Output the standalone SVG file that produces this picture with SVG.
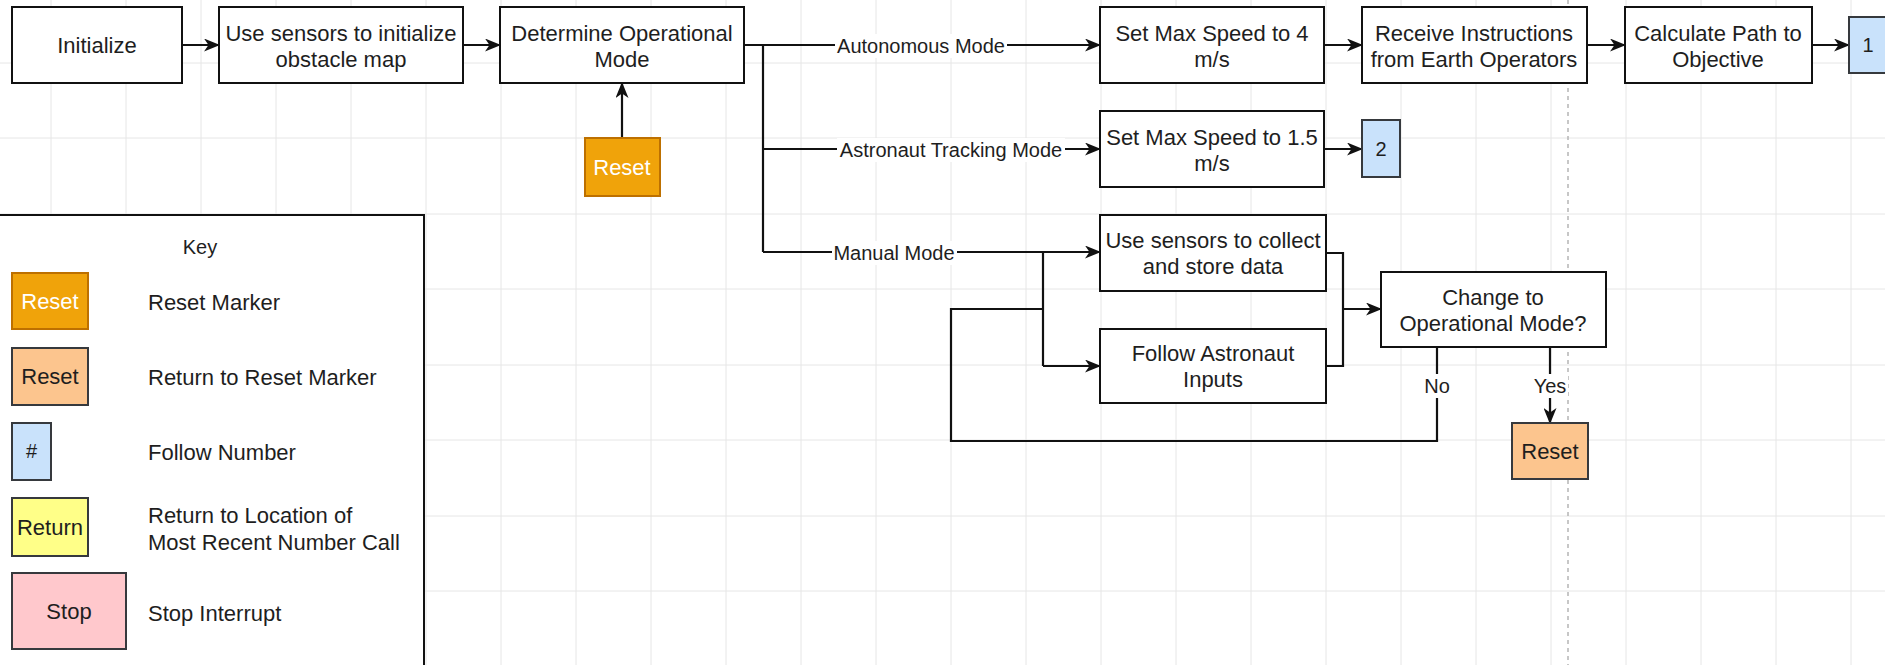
<svg xmlns="http://www.w3.org/2000/svg" width="1885" height="665" viewBox="0 0 1885 665">
<defs>
<style>
text{font-family:"Liberation Sans",Arial,sans-serif;fill:#1e1e1e;text-anchor:middle;dominant-baseline:central}
.t{font-size:22px}
.lbl{font-size:20px}
.key{font-size:22px;text-anchor:start}
.box{fill:#fff;stroke:#111;stroke-width:2}
.org{fill:#f0a30a;stroke:#bd7000;stroke-width:2}
.lor{fill:#fcc58e;stroke:#36393d;stroke-width:2}
.blu{fill:#c9e2fb;stroke:#36393d;stroke-width:2}
.yel{fill:#ffff88;stroke:#36393d;stroke-width:2}
.pnk{fill:#ffc8cc;stroke:#36393d;stroke-width:2}
.grid line{stroke:#e6e6e6;stroke-width:1}
.e{fill:none;stroke:#111;stroke-width:2.2}
.a{marker-end:url(#arr)}
.bg{fill:#fff}
</style>
<marker id="arr" markerUnits="userSpaceOnUse" markerWidth="16" markerHeight="13" refX="15" refY="6.5" orient="auto">
<path d="M0,0 L16,6.5 L0,13 L4.5,6.5 z" fill="#111"/>
</marker>
</defs>
<rect width="1885" height="665" fill="#fff"/>
<g class="grid">
<line x1="51" y1="0" x2="51" y2="665"/><line x1="126" y1="0" x2="126" y2="665"/><line x1="201" y1="0" x2="201" y2="665"/><line x1="276" y1="0" x2="276" y2="665"/><line x1="351" y1="0" x2="351" y2="665"/><line x1="426" y1="0" x2="426" y2="665"/><line x1="501" y1="0" x2="501" y2="665"/><line x1="576" y1="0" x2="576" y2="665"/><line x1="651" y1="0" x2="651" y2="665"/><line x1="726" y1="0" x2="726" y2="665"/><line x1="801" y1="0" x2="801" y2="665"/><line x1="876" y1="0" x2="876" y2="665"/><line x1="951" y1="0" x2="951" y2="665"/><line x1="1026" y1="0" x2="1026" y2="665"/><line x1="1101" y1="0" x2="1101" y2="665"/><line x1="1176" y1="0" x2="1176" y2="665"/><line x1="1251" y1="0" x2="1251" y2="665"/><line x1="1326" y1="0" x2="1326" y2="665"/><line x1="1401" y1="0" x2="1401" y2="665"/><line x1="1476" y1="0" x2="1476" y2="665"/><line x1="1551" y1="0" x2="1551" y2="665"/><line x1="1626" y1="0" x2="1626" y2="665"/><line x1="1701" y1="0" x2="1701" y2="665"/><line x1="1776" y1="0" x2="1776" y2="665"/><line x1="1851" y1="0" x2="1851" y2="665"/>
<line x1="0" y1="63" x2="1885" y2="63"/><line x1="0" y1="138" x2="1885" y2="138"/><line x1="0" y1="214" x2="1885" y2="214"/><line x1="0" y1="289" x2="1885" y2="289"/><line x1="0" y1="365" x2="1885" y2="365"/><line x1="0" y1="440" x2="1885" y2="440"/><line x1="0" y1="516" x2="1885" y2="516"/><line x1="0" y1="591" x2="1885" y2="591"/>
</g>
<line x1="1568" y1="0" x2="1568" y2="665" stroke="#b5b5b5" stroke-width="1.5" stroke-dasharray="4 4"/>

<g id="legend">
<rect x="-2" y="215" width="426" height="455" fill="#fff" stroke="#111" stroke-width="2"/>
<text x="200" y="247" class="lbl">Key</text>
<rect x="12" y="273" width="76" height="56" class="org"/><text x="50" y="301" class="t" style="fill:#fff">Reset</text>
<text x="148" y="302" class="key">Reset Marker</text>
<rect x="12" y="348" width="76" height="57" class="lor"/><text x="50" y="376" class="t">Reset</text>
<text x="148" y="377" class="key">Return to Reset Marker</text>
<rect x="12" y="423" width="39" height="57" class="blu"/><text x="31.5" y="451" class="lbl">#</text>
<text x="148" y="452" class="key">Follow Number</text>
<rect x="12" y="498" width="76" height="58" class="yel"/><text x="50" y="527" class="t">Return</text>
<text x="148" y="515" class="key">Return to Location of</text>
<text x="148" y="542" class="key">Most Recent Number Call</text>
<rect x="12" y="573" width="114" height="76" class="pnk"/><text x="69" y="611" class="t">Stop</text>
<text x="148" y="613" class="key">Stop Interrupt</text>
</g>

<g id="connectors">
<path class="e a" d="M182,45 H219"/>
<path class="e a" d="M463,45 H500"/>
<path class="e a" d="M622,138 V83"/>
<path class="e a" d="M744,45 H1100"/>
<path class="e" d="M763,45 V252"/>
<path class="e a" d="M763,149 H1100"/>
<path class="e a" d="M763,252 H1100"/>
<path class="e a" d="M1324,45 H1362"/>
<path class="e a" d="M1587,45 H1625"/>
<path class="e a" d="M1812,45 H1849"/>
<path class="e a" d="M1324,149 H1362"/>
<path class="e" d="M1043,252 V366"/>
<path class="e a" d="M1043,366 H1100"/>
<path class="e" d="M1326,253 H1343 V366 H1326"/>
<path class="e a" d="M1343,309 H1381"/>
<path class="e" d="M1437,347 V441 H951 V309 H1043"/>
<path class="e a" d="M1550,347 V423"/>
<rect x="835" y="34" width="172" height="24" class="bg"/><text x="921" y="46" class="lbl">Autonomous Mode</text>
<rect x="837" y="138" width="228" height="24" class="bg"/><text x="951" y="150" class="lbl">Astronaut Tracking Mode</text>
<rect x="832" y="241" width="125" height="24" class="bg"/><text x="894" y="253" class="lbl">Manual Mode</text>
<rect x="1423" y="374" width="28" height="24" class="bg"/><text x="1437" y="386" class="lbl">No</text>
<rect x="1532" y="374" width="36" height="24" class="bg"/><text x="1550" y="386" class="lbl">Yes</text>
</g>

<g id="n-initialize"><rect x="12" y="7" width="170" height="76" class="box"/><text x="97" y="45" class="t">Initialize</text></g>
<g id="n-sensors-init"><rect x="219" y="7" width="244" height="76" class="box"/><text x="341" y="33" class="t">Use sensors to initialize</text><text x="341" y="59" class="t">obstacle map</text></g>
<g id="n-determine"><rect x="500" y="7" width="244" height="76" class="box"/><text x="622" y="33" class="t">Determine Operational</text><text x="622" y="59" class="t">Mode</text></g>
<g id="n-reset-marker"><rect x="585" y="138" width="75" height="58" class="org"/><text x="622" y="167" class="t" style="fill:#fff">Reset</text></g>
<g id="n-speed4"><rect x="1100" y="7" width="224" height="76" class="box"/><text x="1212" y="33" class="t">Set Max Speed to 4</text><text x="1212" y="59" class="t">m/s</text></g>
<g id="n-receive"><rect x="1362" y="7" width="225" height="76" class="box"/><text x="1474" y="33" class="t">Receive Instructions</text><text x="1474" y="59" class="t">from Earth Operators</text></g>
<g id="n-calc"><rect x="1625" y="7" width="187" height="76" class="box"/><text x="1718" y="33" class="t">Calculate Path to</text><text x="1718" y="59" class="t">Objective</text></g>
<g id="n-one"><rect x="1849" y="17" width="40" height="56" class="blu"/><text x="1868" y="45" class="lbl">1</text></g>
<g id="n-speed15"><rect x="1100" y="111" width="224" height="76" class="box"/><text x="1212" y="137" class="t">Set Max Speed to 1.5</text><text x="1212" y="163" class="t">m/s</text></g>
<g id="n-two"><rect x="1362" y="120" width="38" height="57" class="blu"/><text x="1381" y="149" class="lbl">2</text></g>
<g id="n-collect"><rect x="1100" y="215" width="226" height="76" class="box"/><text x="1213" y="240" class="t">Use sensors to collect</text><text x="1213" y="266" class="t">and store data</text></g>
<g id="n-follow"><rect x="1100" y="329" width="226" height="74" class="box"/><text x="1213" y="353" class="t">Follow Astronaut</text><text x="1213" y="379" class="t">Inputs</text></g>
<g id="n-change"><rect x="1381" y="272" width="225" height="75" class="box"/><text x="1493" y="297" class="t">Change to</text><text x="1493" y="323" class="t">Operational Mode?</text></g>
<g id="n-reset-return"><rect x="1512" y="423" width="76" height="56" class="lor"/><text x="1550" y="451" class="t">Reset</text></g>
</svg>
